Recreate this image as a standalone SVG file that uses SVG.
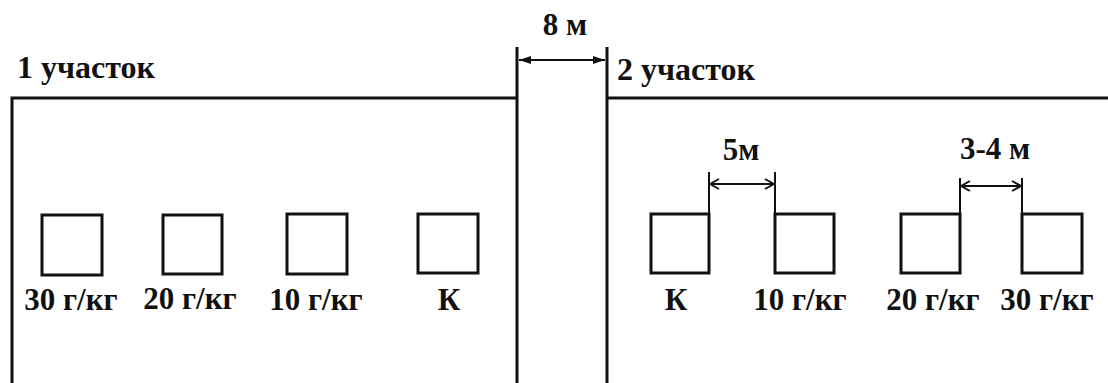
<svg xmlns="http://www.w3.org/2000/svg" width="1108" height="383" viewBox="0 0 1108 383">
<defs>
<style>
.frame{fill:none;stroke:#111;stroke-width:3}
.plot{fill:#fff;stroke:#111;stroke-width:3}
.dim{fill:none;stroke:#111;stroke-width:2}
.t{font-family:'Liberation Serif','DejaVu Serif',serif;font-weight:700;fill:#111}
.big{font-size:32px}
.lab{font-size:31px;text-anchor:middle}
.sm{font-size:31px;text-anchor:middle}
</style>
<marker id="solid" viewBox="0 0 12 10" refX="12" refY="5" markerWidth="12" markerHeight="10" orient="auto-start-reverse" markerUnits="userSpaceOnUse">
<path d="M0,1 L12,5 L0,9 Z" fill="#111"/>
</marker>
<marker id="open" viewBox="0 0 12 12" refX="11" refY="6" markerWidth="12" markerHeight="12" orient="auto-start-reverse" markerUnits="userSpaceOnUse">
<path d="M2,1 L11,6 L2,11" fill="none" stroke="#111" stroke-width="2"/>
</marker>
</defs>
<rect width="1108" height="383" fill="#fff"/>

<g id="field">
<path class="frame" d="M12,383 V98 H517 M517,47 V383 M607,47 V383 M607,98 H1108"/>
<text class="t big" x="17" y="78">1 участок</text>
<text class="t big" x="617" y="80">2 участок</text>
</g>

<g id="plot1-30"><rect class="plot" x="42" y="215" width="60" height="60"/><text class="t lab" x="71" y="310">30 г/кг</text></g>
<g id="plot1-20"><rect class="plot" x="163" y="215" width="59" height="59"/><text class="t lab" x="190" y="309">20 г/кг</text></g>
<g id="plot1-10"><rect class="plot" x="287" y="214" width="60" height="60"/><text class="t lab" x="316" y="310">10 г/кг</text></g>
<g id="plot1-k"><rect class="plot" x="418" y="214" width="60" height="59"/><text class="t lab" x="449" y="310">К</text></g>

<g id="plot2-k"><rect class="plot" x="651" y="214" width="58" height="59"/><text class="t lab" x="676" y="310">К</text></g>
<g id="plot2-10"><rect class="plot" x="775" y="214" width="59" height="59"/><text class="t lab" x="800" y="310">10 г/кг</text></g>
<g id="plot2-20"><rect class="plot" x="901" y="214" width="59" height="59"/><text class="t lab" x="933" y="310">20 г/кг</text></g>
<g id="plot2-30"><rect class="plot" x="1022" y="214" width="60" height="59"/><text class="t lab" x="1047" y="310">30 г/кг</text></g>

<g id="connectors">
<path class="dim" d="M519,60 H605" marker-start="url(#solid)" marker-end="url(#solid)"/>
<path class="dim" d="M709,172 V214 M775,172 V214"/>
<path class="dim" d="M710,184 H774" marker-start="url(#open)" marker-end="url(#open)"/>
<path class="dim" d="M960,178 V214 M1022,178 V214"/>
<path class="dim" d="M961,186 H1021" marker-start="url(#open)" marker-end="url(#open)"/>
<text class="t sm" x="565" y="35">8 м</text>
<text class="t sm" x="741" y="160">5м</text>
<text class="t sm" x="995" y="159">3-4 м</text>
</g>
</svg>
